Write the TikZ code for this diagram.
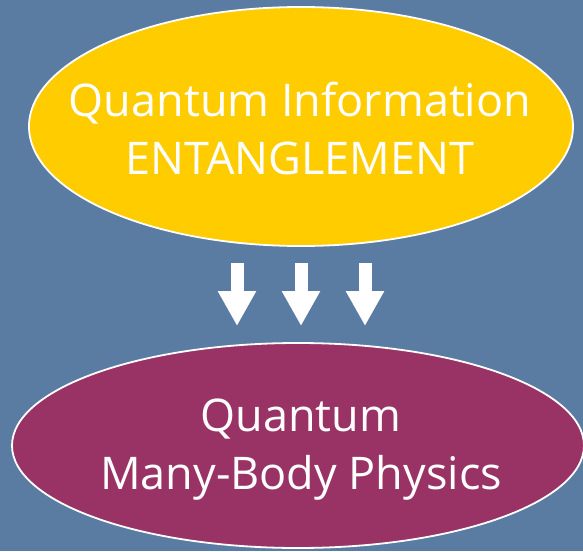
\documentclass[tikz,border=0pt]{standalone}
\usepackage{fontspec}
\setmainfont{Open Sans}
\usetikzlibrary{shapes.geometric,arrows.meta}
\definecolor{slide}{RGB}{90,124,162}
\definecolor{gold}{RGB}{255,204,0}
\definecolor{plum}{RGB}{153,51,102}
\begin{document}
\begin{tikzpicture}[x=1pt,y=-1pt,
  blob/.style={draw=white, line width=1.8pt, ellipse, inner sep=0pt},
  blobtext/.style={text=white, align=center, font=\fontsize{45}{58}\selectfont},
  downarrow/.style={white, line width=13pt, -{Triangle[length=35pt,width=36pt]}}]
\fill[slide] (0,0) rectangle (583,551);
\useasboundingbox (0,0) rectangle (583,551);
\node[blob, fill=gold, minimum width=544pt, minimum height=239pt] (QI) at (301,126.5) {};
\node[blobtext] (QItext) at (300,129) {Quantum Information\\ ENTANGLEMENT};
\node[blob, fill=plum, minimum width=572pt, minimum height=205pt] (MB) at (298,445.5) {};
\node[blobtext] (MBtext) at (301,450) {Quantum\\ Many-Body Physics};
\coordinate (a1) at (237,263);
\coordinate (b1) at (237,326);
\coordinate (a2) at (301,263);
\coordinate (b2) at (301,326);
\coordinate (a3) at (365,263);
\coordinate (b3) at (365,326);
\draw[downarrow] (a1) -- (b1);
\draw[downarrow] (a2) -- (b2);
\draw[downarrow] (a3) -- (b3);
\end{tikzpicture}
\end{document}
